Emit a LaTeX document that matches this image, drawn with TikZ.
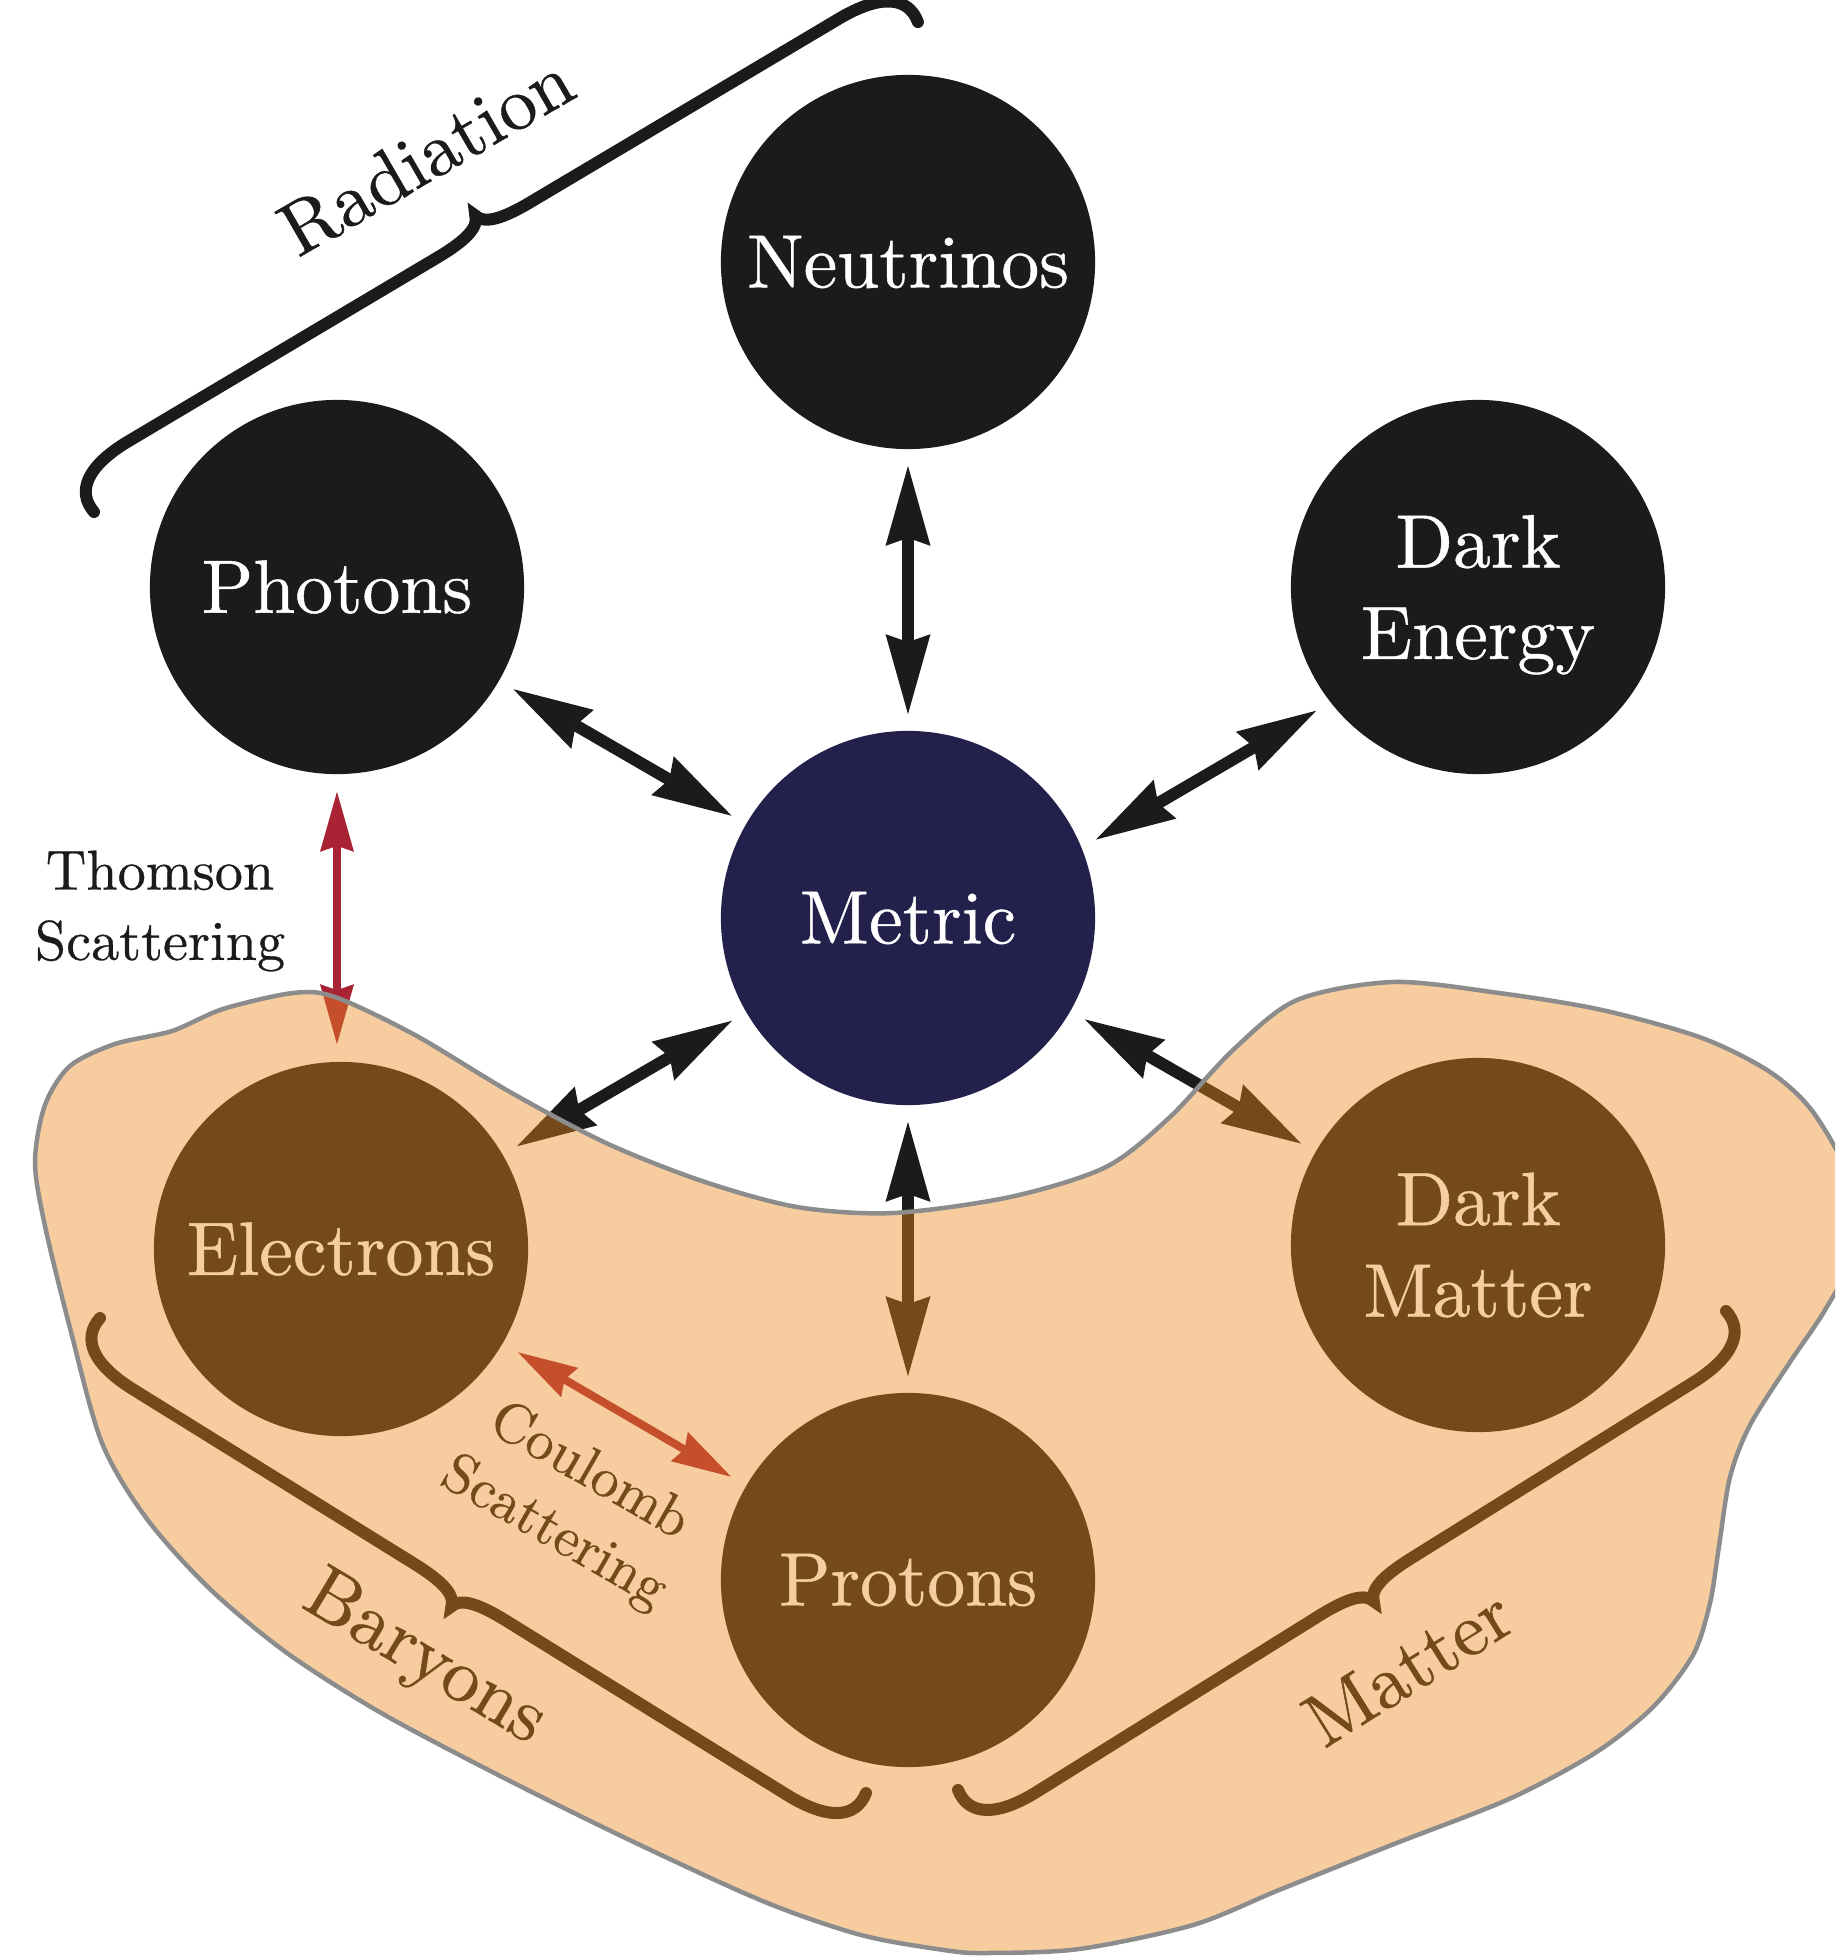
\documentclass[tikz,border=0pt]{standalone}
\usepackage{fontspec}
\setmainfont{lmroman10-regular}[Extension=.otf]
\usetikzlibrary{arrows.meta,decorations}

\definecolor{ink}{RGB}{28,27,27}
\definecolor{metricblue}{RGB}{35,32,75}
\definecolor{scatterred}{RGB}{168,36,52}
\definecolor{matterorange}{RGB}{236,138,29}
\definecolor{blobline}{RGB}{140,140,140}

\newcommand{\labelfont}{\fontsize{21.5pt}{26pt}\selectfont\addfontfeature{FakeBold=0.6}}
\newcommand{\notefont}{\fontsize{16pt}{20pt}\selectfont\addfontfeature{FakeBold=0.5}}
\newcommand{\nodepth}[1]{\raisebox{0pt}[\height][0pt]{#1}}

% curly brace with hooked ends and a sharp middle cusp
\pgfdeclaredecoration{curlybrace}{start}{%
  \state{start}[width=+\pgfdecoratedremainingdistance,next state=final]{%
    \pgfpathmoveto{\pgfpointorigin}%
    \pgfpathcurveto{\pgfqpoint{-.08\pgfdecorationsegmentamplitude}{.45\pgfdecorationsegmentamplitude}}%
                   {\pgfqpoint{.3\pgfdecorationsegmentamplitude}{.72\pgfdecorationsegmentamplitude}}%
                   {\pgfqpoint{1.1\pgfdecorationsegmentamplitude}{.72\pgfdecorationsegmentamplitude}}%
    {%
      \pgftransformxshift{+.5\pgfdecoratedremainingdistance}%
      \pgfpathlineto{\pgfqpoint{-.9\pgfdecorationsegmentamplitude}{.72\pgfdecorationsegmentamplitude}}%
      \pgfpathcurveto{\pgfqpoint{-.35\pgfdecorationsegmentamplitude}{.72\pgfdecorationsegmentamplitude}}%
                     {\pgfqpoint{-.05\pgfdecorationsegmentamplitude}{.8\pgfdecorationsegmentamplitude}}%
                     {\pgfqpoint{0pt}{\pgfdecorationsegmentamplitude}}%
      \pgfpathcurveto{\pgfqpoint{.05\pgfdecorationsegmentamplitude}{.8\pgfdecorationsegmentamplitude}}%
                     {\pgfqpoint{.35\pgfdecorationsegmentamplitude}{.72\pgfdecorationsegmentamplitude}}%
                     {\pgfqpoint{.9\pgfdecorationsegmentamplitude}{.72\pgfdecorationsegmentamplitude}}%
    }%
    {%
      \pgftransformxshift{+\pgfdecoratedremainingdistance}%
      \pgfpathlineto{\pgfqpoint{-1.1\pgfdecorationsegmentamplitude}{.72\pgfdecorationsegmentamplitude}}%
      \pgfpathcurveto{\pgfqpoint{-.3\pgfdecorationsegmentamplitude}{.72\pgfdecorationsegmentamplitude}}%
                     {\pgfqpoint{.08\pgfdecorationsegmentamplitude}{.45\pgfdecorationsegmentamplitude}}%
                     {\pgfpointorigin}%
    }%
  }%
  \state{final}{}%
}

\tikzset{
  ball/.style={circle, fill=ink, minimum size=3.74cm, inner sep=0pt,
    text=white, align=center, font=\labelfont},
  link/.style={draw=ink, line width=0.12cm,
    {Stealth[length=0.8cm, width=0.45cm, inset=0.08cm, line width=0pt]}-{Stealth[length=0.8cm, width=0.45cm, inset=0.08cm, line width=0pt]},
    shorten <=0.16cm, shorten >=0.16cm},
  scatterlink/.style={draw=scatterred, line width=0.08cm,
    {Stealth[length=0.6cm, width=0.34cm, inset=0.06cm, line width=0pt]}-{Stealth[length=0.6cm, width=0.34cm, inset=0.06cm, line width=0pt]},
    shorten <=0.17cm, shorten >=0.17cm},
  groupbrace/.style={draw=ink, line width=0.12cm, line cap=round,
    decorate, decoration={curlybrace, amplitude=0.6cm}},
  grouplabel/.style={font=\labelfont, text=ink, inner sep=0pt},
  notelabel/.style={font=\notefont, text=ink, align=center, inner sep=0pt},
}

\begin{document}
\begin{tikzpicture}[x=0.01cm, y=-0.01cm]
\useasboundingbox (0,0) rectangle (1835,1958);
\clip (0,0) rectangle (1835,1958);

% components
\node[ball] (neutrinos)  at (908,262)  {Neutrinos};
\node[ball] (photons)    at (337,587)  {Photons};
\node[ball] (darkenergy) at (1478,587) {Dark\\\nodepth{Energy}};
\node[ball, fill=metricblue] (metric) at (908,918) {Metric};
\node[ball] (electrons)  at (341,1249) {Electrons};
\node[ball] (darkmatter) at (1478,1245) {Dark\\Matter};
\node[ball] (protons)    at (908,1580) {Protons};

% couplings through gravity
\draw[link] (neutrinos) -- (metric);
\draw[link] (photons) -- (metric);
\draw[link] (darkenergy.218) -- (metric.22.6);
\draw[link] (metric) -- (electrons);
\draw[link] (metric) -- (darkmatter);
\draw[link] (metric) -- (protons);

% scattering processes
\draw[scatterlink] (photons.south) -- (photons.south |- electrons.north);
\draw[scatterlink] (electrons) -- (protons);
\node[notelabel] (thomson) at (160,911) {Thomson\\Scattering};
\node[notelabel, rotate=-30] (coulomb) at (571,1503) {Coulomb\\Scattering};

% groupings
\coordinate (radA) at (94,512);
\coordinate (radB) at (918,22);
\draw[groupbrace] (radA) -- (radB);
\node[grouplabel, rotate=30] (radiation) at (426,155) {Radiation};

\coordinate (barA) at (866,1793);
\coordinate (barB) at (100,1318);
\draw[groupbrace] (barA) -- (barB);
\node[grouplabel, rotate=-31] (baryons) at (424,1660) {Baryons};

\coordinate (matA) at (1726,1311);
\coordinate (matB) at (958,1790);
\draw[groupbrace] (matA) -- (matB);
\node[grouplabel, rotate=32] (matter) at (1408,1667) {Matter};

% translucent matter region laid over everything
\draw[draw=blobline, line width=0.045cm, fill=matterorange, fill opacity=0.423]
  plot[smooth cycle, tension=0.5] coordinates {
    (293,993) (335,997) (415,1035) (510,1092) (606,1143) (702,1181)
    (797,1207) (893,1213) (1010,1197) (1106,1167) (1170,1117) (1233,1050)
    (1297,1000) (1393,982) (1499,993) (1602,1010) (1702,1038) (1770,1072)
    (1813,1112) (1850,1180) (1855,1250) (1825,1310) (1790,1362) (1750,1425)
    (1730,1477) (1719,1546) (1710,1603) (1693,1655) (1653,1707) (1595,1753)
    (1509,1799) (1394,1844) (1279,1890) (1193,1925) (1079,1949) (985,1953)
    (944,1950) (861,1935) (765,1902) (638,1844) (510,1781) (383,1714)
    (287,1653) (210,1589) (147,1519) (102,1443) (70,1328) (45,1226)
    (35,1162) (45,1105) (70,1066) (115,1044) (172,1031) (223,1009)
  };
\end{tikzpicture}
\end{document}
